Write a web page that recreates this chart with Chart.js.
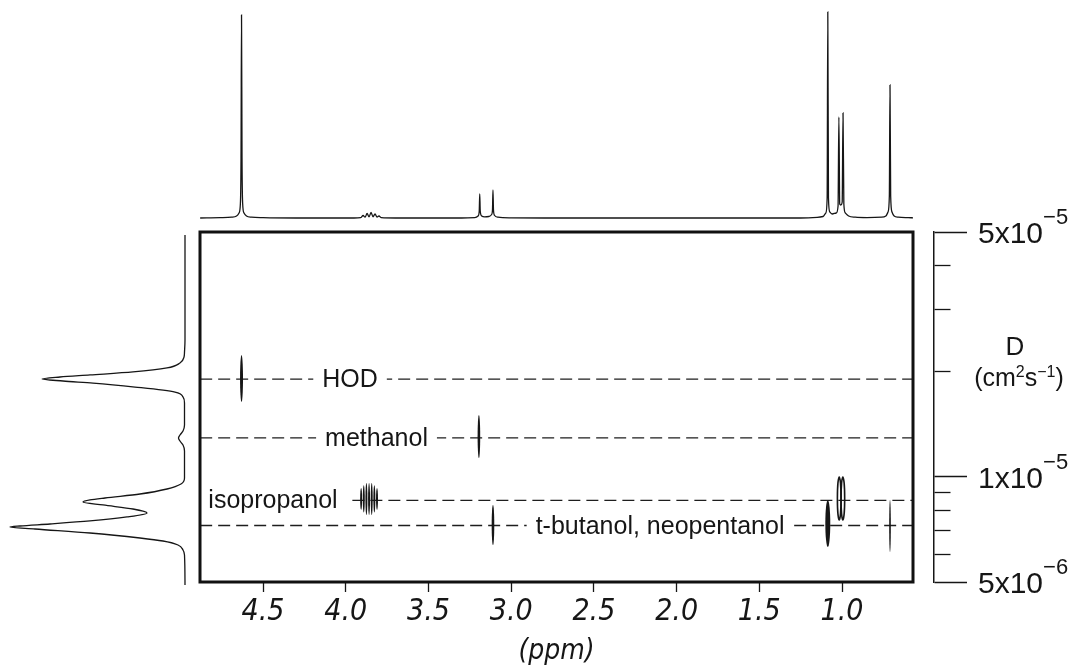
<!DOCTYPE html>
<html>
<head>
<meta charset="utf-8">
<script src="https://cdn.jsdelivr.net/npm/chart.js@4.4.1/dist/chart.umd.min.js"></script>
<style>
  html, body { margin: 0; padding: 0; background: #fff; }
  #wrap { position: relative; width: 1080px; height: 669px; overflow: hidden; background: #fff; }
  #wrap canvas { position: absolute; left: 0; top: 0; }
</style>
</head>
<body>
<div id="wrap">
  <canvas id="spec1d" width="1080" height="669"></canvas>
  <canvas id="projD" width="1080" height="669"></canvas>
  <canvas id="dosy" width="1080" height="669"></canvas>
  <canvas id="axisD" width="1080" height="669"></canvas>
</div>
<script>
// ---- chemical-shift window (ppm) and diffusion window (cm^2/s) ----
const ppmHigh = 4.881;
const ppmLow = 0.571;
const dMin = 5e-6;
const dMax = 5e-5;

// ---- 1H spectrum on top: shift (ppm) and intensity ----
const specPpm = [4.880, 4.760, 4.690, 4.660, 4.645, 4.637, 4.633, 4.630, 4.627, 4.623, 4.615, 4.600, 4.570, 4.500, 4.300,
  3.950, 3.910, 3.895, 3.883, 3.871, 3.859, 3.847, 3.835, 3.823, 3.811, 3.799, 3.785, 3.700,
  3.300, 3.220, 3.200, 3.193, 3.190, 3.187, 3.178, 3.160, 3.135, 3.118, 3.113, 3.110, 3.107, 3.100, 3.080, 3.000, 2.800,
  1.250, 1.150, 1.115, 1.098, 1.090, 1.086, 1.082, 1.074, 1.060, 1.035, 1.024, 1.019, 1.014, 1.007, 0.999, 0.994, 0.989,
  0.980, 0.960, 0.920, 0.850, 0.760, 0.735, 0.722, 0.714, 0.710, 0.706, 0.698, 0.685, 0.660, 0.600, 0.571];
const specInt = [0, 0.3, 0.8, 2, 5, 14, 60, 203, 60, 14, 5, 2, 0.8, 0.3, 0,
  0, 0.3, 2.5, 0.8, 4.5, 1.2, 5.5, 1.2, 4, 0.8, 2, 0.3, 0,
  0, 0.4, 2, 7, 24, 7, 2, 1.2, 1.5, 3.5, 8, 28, 8, 2.5, 0.8, 0.2, 0,
  0, 0.6, 1.5, 5, 20, 206, 20, 6, 4, 5, 12, 101, 14, 13, 16, 105, 14,
  5, 2, 0.8, 0.4, 0.8, 2, 6, 22, 133, 22, 6, 2, 0.8, 0.3, 0.2];

// ---- diffusion projection on the left: D (cm^2/s) and intensity ----
const projDval = [4.902e-5, 2.457e-5, 2.270e-5, 2.196e-5, 2.112e-5, 2.044e-5, 1.991e-5, 1.952e-5, 1.926e-5, 1.901e-5,
  1.876e-5, 1.851e-5, 1.803e-5, 1.745e-5, 1.689e-5, 1.623e-5, 1.404e-5, 1.350e-5, 1.315e-5, 1.289e-5, 1.264e-5,
  1.231e-5, 1.184e-5, 9.911e-6, 9.528e-6, 9.219e-6, 8.921e-6, 8.690e-6, 8.577e-6, 8.463e-6, 8.299e-6, 8.083e-6,
  7.873e-6, 7.669e-6, 7.470e-6, 7.324e-6, 7.228e-6, 7.180e-6, 7.087e-6, 6.902e-6, 6.679e-6, 6.548e-6, 6.378e-6,
  6.172e-6, 5.972e-6, 4.902e-6];
const projInt = [0, 0, 0.5, 1, 5, 18, 52, 95, 125, 143,
  122, 92, 50, 10, 2, 0.5, 0.5, 2, 5, 6.5, 5,
  2, 0.5, 0.5, 4, 18, 45, 80, 95, 102, 82, 52,
  38, 58, 95, 135, 165, 175, 150, 95, 45, 22, 7,
  2, 0.5, 0];

// ---- components: name, diffusion coefficient, extent of the guide line (ppm) ----
const compNames = ['HOD', 'methanol', 'isopropanol', 't-butanol, neopentanol'];
const compD = [1.90e-5, 1.29e-5, 8.55e-6, 7.25e-6];
const compLineFrom = [4.88, 4.88, 3.96, 4.88];
const compLineTo = [0.575, 0.575, 0.575, 0.575];
const compLabelPpm = [3.974, 3.814, 4.440, 2.100];

// ---- cross peaks: shift, D range (upper / lower), half width in ppm, filled or outlined ----
const peakPpm = [4.630, 3.195, 3.907, 3.891, 3.875, 3.859, 3.843, 3.827, 3.811, 3.110, 1.086, 1.017, 0.995, 0.710];
const peakDUpper = [2.227e-5, 1.500e-5, 9.281e-6, 9.45e-6, 9.59e-6, 9.59e-6, 9.59e-6, 9.45e-6, 9.281e-6, 8.299e-6, 8.577e-6, 9.976e-6, 9.976e-6, 8.577e-6];
const peakDLower = [1.634e-5, 1.131e-5, 8.030e-6, 7.90e-6, 7.769e-6, 7.769e-6, 7.769e-6, 7.90e-6, 8.030e-6, 6.378e-6, 6.295e-6, 7.519e-6, 7.519e-6, 6.091e-6];
const peakHalfWidth = [0.009, 0.008, 0.006, 0.006, 0.006, 0.006, 0.006, 0.006, 0.006, 0.008, 0.015, 0.011, 0.011, 0.005];
const peakFilled = [true, true, true, true, true, true, true, true, true, true, true, false, false, true];

// ---- axis ticks ----
const ppmTicks = [4.5, 4.0, 3.5, 3.0, 2.5, 2.0, 1.5, 1.0];
const dTicks = [5e-5, 4e-5, 3e-5, 2e-5, 1e-5, 9e-6, 8e-6, 7e-6, 6e-6, 5e-6];
const dMajorTicks = [5e-5, 1e-5, 5e-6];
const dMajorMantissa = ['5x10', '1x10', '5x10'];
const dMajorExponent = ['\u22125', '\u22125', '\u22126'];

const INK = '#161616';
const SANS = '"Liberation Sans", Arial, Helvetica, sans-serif';
const NARROW = '"Liberation Sans Narrow", "DejaVu Sans Condensed", "Liberation Sans", sans-serif';

const common = {
  responsive: false,
  animation: false,
  events: [],
  devicePixelRatio: 1,
  plugins: { legend: { display: false }, tooltip: { enabled: false }, title: { display: false } }
};

// ---------- 1D proton spectrum ----------
new Chart(document.getElementById('spec1d'), {
  type: 'line',
  data: {
    datasets: [{
      data: specPpm.map((p, i) => ({ x: p, y: specInt[i] })),
      borderColor: INK,
      borderWidth: 1.3,
      pointRadius: 0,
      cubicInterpolationMode: 'monotone',
      clip: false
    }]
  },
  options: Object.assign({}, common, {
    layout: { padding: { left: 200, right: 167, top: 10, bottom: 451 } },
    scales: {
      x: { type: 'linear', reverse: true, min: ppmLow, max: ppmHigh, display: false },
      y: { type: 'linear', min: 0, max: 208, display: false }
    }
  })
});

// ---------- diffusion projection ----------
new Chart(document.getElementById('projD'), {
  type: 'line',
  data: {
    datasets: [{
      data: projDval.map((d, i) => ({ x: projInt[i], y: d })),
      indexAxis: 'y',
      borderColor: INK,
      borderWidth: 1.3,
      pointRadius: 0,
      cubicInterpolationMode: 'monotone',
      clip: false
    }]
  },
  options: Object.assign({}, common, {
    indexAxis: 'y',
    layout: { padding: { left: 5, right: 895, top: 232, bottom: 87 } },
    scales: {
      x: { type: 'linear', reverse: true, min: 0, max: 180, display: false },
      y: { type: 'logarithmic', min: dMin, max: dMax, display: false }
    }
  })
});

// ---------- 2D DOSY map ----------
const crossPeaks = {
  id: 'crossPeaks',
  afterDatasetsDraw(chart) {
    const { ctx } = chart;
    const xs = chart.scales.x, ys = chart.scales.y;
    ctx.save();
    // cross peaks as narrow contours
    peakPpm.forEach((p, i) => {
      const cx = xs.getPixelForValue(p);
      const rx = Math.abs(xs.getPixelForValue(p - peakHalfWidth[i]) - cx);
      const y1 = ys.getPixelForValue(peakDUpper[i]);
      const y2 = ys.getPixelForValue(peakDLower[i]);
      ctx.beginPath();
      ctx.ellipse(cx, (y1 + y2) / 2, rx, Math.abs(y2 - y1) / 2, 0, 0, Math.PI * 2);
      if (peakFilled[i]) {
        ctx.fillStyle = INK;
        ctx.fill();
      } else {
        ctx.strokeStyle = INK;
        ctx.lineWidth = 1.6;
        ctx.stroke();
      }
    });
    // component names sitting on their guide lines
    ctx.font = '25px ' + SANS;
    ctx.textAlign = 'center';
    ctx.textBaseline = 'alphabetic';
    compNames.forEach((name, i) => {
      const cx = xs.getPixelForValue(compLabelPpm[i]);
      const cy = ys.getPixelForValue(compD[i]);
      const w = ctx.measureText(name).width;
      ctx.fillStyle = '#fff';
      ctx.fillRect(cx - w / 2 - 9, cy - 14, w + 18, 28);
      ctx.fillStyle = INK;
      ctx.fillText(name, cx, cy + 8);
    });
    ctx.restore();
  },
  afterDraw(chart) {
    const { ctx, chartArea: a } = chart;
    ctx.save();
    ctx.strokeStyle = '#111';
    ctx.lineWidth = 3;
    ctx.strokeRect(a.left, a.top, a.right - a.left, a.bottom - a.top);
    ctx.restore();
  }
};

new Chart(document.getElementById('dosy'), {
  type: 'line',
  data: {
    datasets: compNames.map((n, i) => ({
      label: n,
      data: [{ x: compLineFrom[i], y: compD[i] }, { x: compLineTo[i], y: compD[i] }],
      borderColor: '#1e1e1e',
      borderWidth: 1.3,
      borderDash: [12, 6],
      pointRadius: 0
    }))
  },
  options: Object.assign({}, common, {
    layout: { padding: { left: 200, right: 167, top: 232, bottom: 0 } },
    scales: {
      x: {
        type: 'linear', reverse: true, min: ppmLow, max: ppmHigh,
        afterBuildTicks: s => { s.ticks = ppmTicks.map(v => ({ value: v })); },
        afterFit: s => { s.height = 87; },
        border: { display: false },
        grid: { drawOnChartArea: false, drawTicks: true, tickLength: 10, tickColor: INK, tickWidth: 1.3 },
        ticks: {
          callback: v => Number(v).toFixed(1),
          autoSkip: false, maxRotation: 0, padding: 2, color: INK,
          font: { family: NARROW, size: 30, style: 'italic' }
        },
        title: {
          display: true, text: '(ppm)', color: INK,
          font: { family: NARROW, size: 28, style: 'italic' },
          padding: { top: 0, bottom: 0 }
        }
      },
      y: { type: 'logarithmic', min: dMin, max: dMax, display: false }
    }
  }),
  plugins: [crossPeaks]
});

// ---------- diffusion axis on the right ----------
const dAxisText = {
  id: 'dAxisText',
  afterDraw(chart) {
    const { ctx } = chart;
    const ys = chart.scales.y;
    ctx.save();
    ctx.fillStyle = INK;
    ctx.textAlign = 'left';
    ctx.textBaseline = 'alphabetic';
    dMajorTicks.forEach((v, i) => {
      const y = ys.getPixelForValue(v);
      ctx.font = '30px ' + SANS;
      const x0 = 978;
      ctx.fillText(dMajorMantissa[i], x0, y + 11);
      const w = ctx.measureText(dMajorMantissa[i]).width;
      ctx.font = '22px ' + SANS;
      ctx.fillText(dMajorExponent[i], x0 + w, y - 8);
    });
    // axis title: D (cm2 s-1)
    ctx.textAlign = 'center';
    ctx.font = '26px ' + SANS;
    ctx.fillText('D', 1015, 355);
    const parts = [['(cm', 25, 0], ['2', 16, -9], ['s', 25, 0], ['\u22121', 16, -9], [')', 25, 0]];
    let total = 0;
    parts.forEach(p => { ctx.font = p[1] + 'px ' + SANS; total += ctx.measureText(p[0]).width; });
    let x = 1019 - total / 2;
    ctx.textAlign = 'left';
    parts.forEach(p => {
      ctx.font = p[1] + 'px ' + SANS;
      ctx.fillText(p[0], x, 386 + p[2]);
      x += ctx.measureText(p[0]).width;
    });
    ctx.restore();
  }
};

new Chart(document.getElementById('axisD'), {
  type: 'line',
  data: { datasets: [] },
  options: Object.assign({}, common, {
    layout: { padding: { left: 900, right: 0, top: 232, bottom: 87 } },
    scales: {
      x: { type: 'linear', min: 0, max: 1, display: false },
      y: {
        type: 'logarithmic', position: 'right', min: dMin, max: dMax,
        afterBuildTicks: s => { s.ticks = dTicks.map(v => ({ value: v, major: dMajorTicks.includes(v) })); },
        afterFit: s => { s.width = 146; },
        ticks: { display: false },
        border: { display: true, color: INK, width: 1.5 },
        grid: {
          drawOnChartArea: false, drawTicks: true, tickLength: 33,
          tickColor: INK, tickWidth: 1.3,
          tickBorderDash: c => (c.tick && dMajorTicks.includes(c.tick.value)) ? [] : [16, 60]
        }
      }
    }
  }),
  plugins: [dAxisText]
});
</script>
</body>
</html>
